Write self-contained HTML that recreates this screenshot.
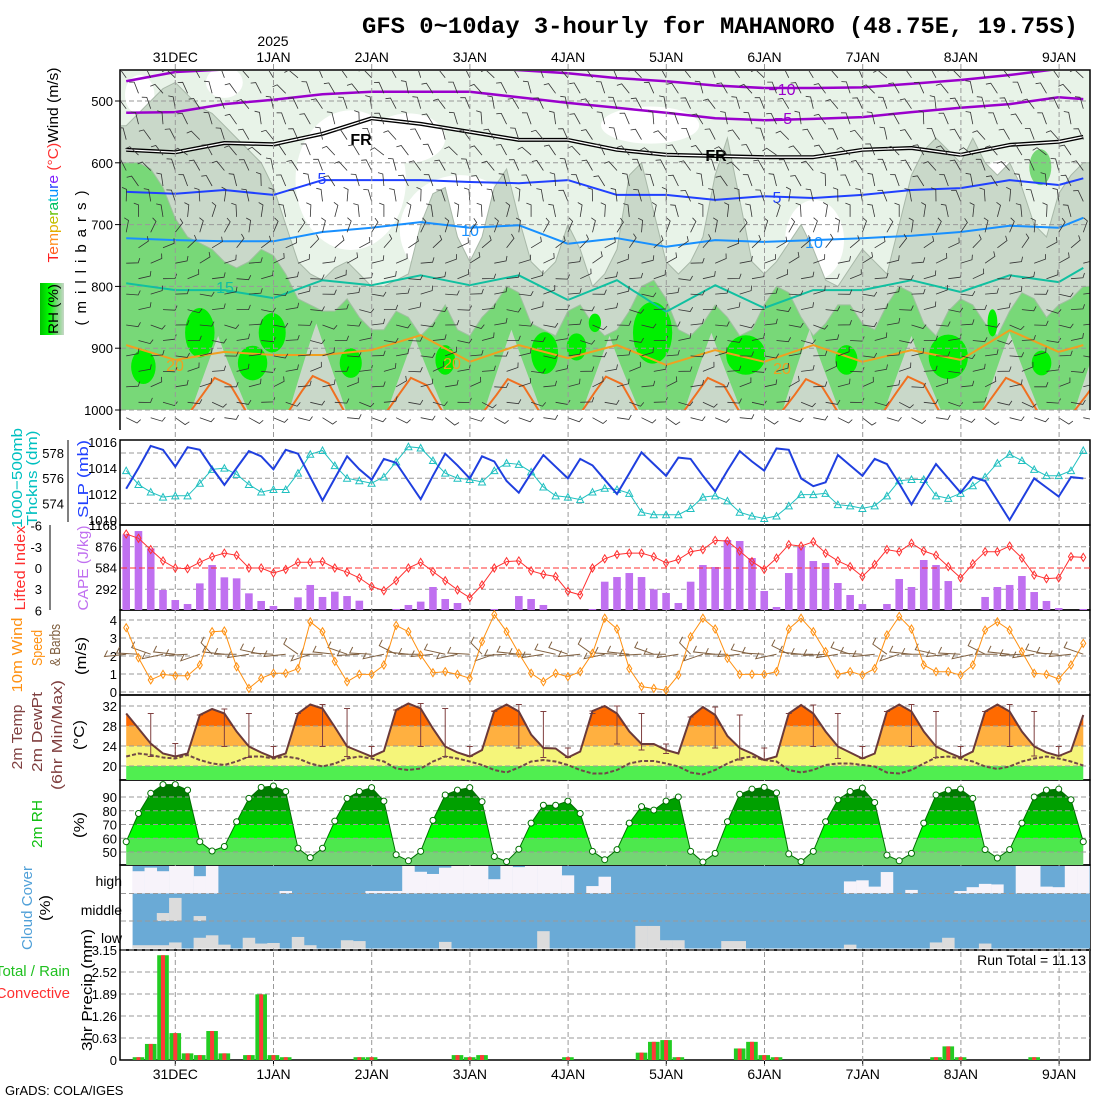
<!DOCTYPE html>
<html><head><meta charset="utf-8"><title>GFS meteogram MAHANORO</title>
<style>
html,body{margin:0;padding:0;background:#fff;}
svg{display:block;font-family:"Liberation Sans",sans-serif;}
.ax{font-size:13px;fill:#000;}
</style></head>
<body>
<svg id="chart" width="1100" height="1100" viewBox="0 0 1100 1100" xmlns="http://www.w3.org/2000/svg">
<defs>
<linearGradient id="rhgrad" x1="0" y1="0" x2="1" y2="0">
<stop offset="0" stop-color="#00c000"/><stop offset="0.4" stop-color="#00ff00"/><stop offset="0.7" stop-color="#78d878"/><stop offset="1" stop-color="#c8d8c8"/>
</linearGradient>
<clipPath id="clipMain"><rect x="121" y="71" width="969" height="339"/></clipPath>
<clipPath id="clipMainB"><rect x="121" y="71" width="969" height="358"/></clipPath>
<clipPath id="cT1"><rect x="120" y="690" width="970" height="36"/></clipPath>
<clipPath id="cT2"><rect x="120" y="726" width="970" height="20"/></clipPath>
<clipPath id="cT3"><rect x="120" y="746" width="970" height="20"/></clipPath>
<clipPath id="cT4"><rect x="120" y="766" width="970" height="14"/></clipPath>
<clipPath id="cR1"><rect x="120" y="780" width="970" height="17"/></clipPath>
<clipPath id="cR2"><rect x="120" y="797" width="970" height="14"/></clipPath>
<clipPath id="cR3"><rect x="120" y="811" width="970" height="14"/></clipPath>
<clipPath id="cR4"><rect x="120" y="825" width="970" height="13"/></clipPath>
<clipPath id="cR5"><rect x="120" y="838" width="970" height="14"/></clipPath>
<clipPath id="cR6"><rect x="120" y="852" width="970" height="13"/></clipPath>
</defs>

<text x="362" y="33" font-family="Liberation Mono, monospace" font-weight="bold" font-size="23" textLength="716" lengthAdjust="spacingAndGlyphs">GFS 0~10day 3-hourly for MAHANORO (48.75E, 19.75S)</text>
<text x="273" y="46" text-anchor="middle" font-size="14">2025</text>

<text transform="translate(58,165) rotate(-90)" text-anchor="middle" font-size="15" textLength="195" lengthAdjust="spacingAndGlyphs"><tspan fill="#ff2020">T</tspan><tspan fill="#ff6020">e</tspan><tspan fill="#ff9020">m</tspan><tspan fill="#e0b000">p</tspan><tspan fill="#c0c000">e</tspan><tspan fill="#60c000">r</tspan><tspan fill="#00c060">a</tspan><tspan fill="#00c0c0">t</tspan><tspan fill="#0090ff">u</tspan><tspan fill="#2040ff">r</tspan><tspan fill="#8020ff">e</tspan><tspan fill="#ff3030"> (°C)</tspan><tspan fill="#000">Wind (m/s)</tspan></text>
<text transform="translate(86,258) rotate(-90)" text-anchor="middle" font-size="15" textLength="135" lengthAdjust="spacing">(millibars)</text>
<rect x="40" y="283" width="24" height="52" fill="url(#rhgrad)"/>
<text transform="translate(58,309) rotate(-90)" text-anchor="middle" font-size="14" textLength="50" lengthAdjust="spacingAndGlyphs">RH (%)</text>

<text transform="translate(22,478) rotate(-90)" text-anchor="middle" font-size="15" fill="#00c0c0" textLength="100" lengthAdjust="spacingAndGlyphs">1000−500mb</text>
<text transform="translate(37,478) rotate(-90)" text-anchor="middle" font-size="15" fill="#00c0c0" textLength="95" lengthAdjust="spacingAndGlyphs">Thckns (dm)</text>
<text transform="translate(88,479) rotate(-90)" text-anchor="middle" font-size="15" fill="#2040ff" textLength="78" lengthAdjust="spacingAndGlyphs">SLP (mb)</text>
<text transform="translate(25,568) rotate(-90)" text-anchor="middle" font-size="15" fill="#ff3030" textLength="85" lengthAdjust="spacingAndGlyphs">Lifted Index</text>
<text transform="translate(88,568) rotate(-90)" text-anchor="middle" font-size="15" fill="#c070f0" textLength="85" lengthAdjust="spacingAndGlyphs">CAPE (J/kg)</text>
<text transform="translate(22,655) rotate(-90)" text-anchor="middle" font-size="15" fill="#ff9010" textLength="75" lengthAdjust="spacingAndGlyphs">10m Wind</text>
<text transform="translate(42,648) rotate(-90)" text-anchor="middle" font-size="15" fill="#ff9010" textLength="36" lengthAdjust="spacingAndGlyphs">Speed</text>
<text transform="translate(60,645) rotate(-90)" text-anchor="middle" font-size="15" fill="#806040" textLength="42" lengthAdjust="spacingAndGlyphs">&amp; Barbs</text>
<text transform="translate(86,656) rotate(-90)" text-anchor="middle" font-size="15" textLength="38" lengthAdjust="spacingAndGlyphs">(m/s)</text>
<text transform="translate(22,737) rotate(-90)" text-anchor="middle" font-size="15" fill="#804040" textLength="65" lengthAdjust="spacingAndGlyphs">2m Temp</text>
<text transform="translate(42,732) rotate(-90)" text-anchor="middle" font-size="15" fill="#804040" textLength="80" lengthAdjust="spacingAndGlyphs">2m DewPt</text>
<text transform="translate(62,735) rotate(-90)" text-anchor="middle" font-size="15" fill="#804040" textLength="110" lengthAdjust="spacingAndGlyphs">(6hr Min/Max)</text>
<text transform="translate(84,735) rotate(-90)" text-anchor="middle" font-size="15" textLength="30" lengthAdjust="spacingAndGlyphs">(°C)</text>
<text transform="translate(42,824) rotate(-90)" text-anchor="middle" font-size="15" fill="#10c010" textLength="48" lengthAdjust="spacingAndGlyphs">2m RH</text>
<text transform="translate(84,825) rotate(-90)" text-anchor="middle" font-size="15" textLength="26" lengthAdjust="spacingAndGlyphs">(%)</text>
<text transform="translate(32,908) rotate(-90)" text-anchor="middle" font-size="15" fill="#50a0d8" textLength="84" lengthAdjust="spacingAndGlyphs">Cloud Cover</text>
<text transform="translate(50,908) rotate(-90)" text-anchor="middle" font-size="15" textLength="26" lengthAdjust="spacingAndGlyphs">(%)</text>
<text x="122" y="886" text-anchor="end" font-size="14">high</text>
<text x="122" y="915" text-anchor="end" font-size="14">middle</text>
<text x="122" y="943" text-anchor="end" font-size="14">low</text>
<text x="70" y="976" text-anchor="end" font-size="15" fill="#20c020">Total / Rain</text>
<text x="70" y="998" text-anchor="end" font-size="15" fill="#ff3030">Convective</text>
<text transform="translate(92,990) rotate(-90)" text-anchor="middle" font-size="15" textLength="122" lengthAdjust="spacingAndGlyphs">3hr Precip (mm)</text>
<text x="5" y="1095" font-size="13">GrADS: COLA/IGES</text>

<g id="layer"></g>
</svg>

<script>
// ===== data =====
const days = ['31DEC','1JAN','2JAN','3JAN','4JAN','5JAN','6JAN','7JAN','8JAN','9JAN'];
const slp = [1012.4,1014.0,1015.7,1015.4,1014.1,1015.6,1015.4,1014.0,1012.7,1014.0,1015.3,1014.9,1013.9,1015.4,1015.1,1013.3,1011.5,1013.2,1014.9,1013.9,1013.1,1014.7,1014.4,1013.0,1011.6,1013.4,1015.1,1014.2,1013.2,1014.9,1014.5,1013.0,1012.1,1013.6,1015.0,1014.1,1013.2,1014.7,1014.2,1013.1,1012.0,1013.6,1015.2,1014.3,1013.4,1014.8,1014.7,1013.4,1012.2,1013.8,1015.3,1014.5,1013.8,1015.5,1015.4,1013.2,1012.6,1012.9,1015.0,1014.2,1013.4,1014.7,1014.3,1012.8,1011.2,1012.8,1014.3,1013.2,1012.1,1013.3,1013.0,1011.5,1010.0,1011.6,1013.2,1012.5,1011.8,1013.3,1013.2];
const thk = [576.6,575.5,574.9,574.5,574.6,574.6,575.6,576.7,576.8,576.3,575.5,574.9,575.1,575.1,576.4,577.9,578.2,577.0,576.0,575.8,575.6,576.1,577.3,578.5,578.4,577.4,576.4,576.0,575.9,575.7,576.6,577.2,577.1,576.5,575.3,574.6,574.5,574.3,574.9,575.2,575.1,574.8,573.3,573.1,573.1,573.1,573.6,574.5,574.6,574.2,573.3,573.0,572.8,573.0,573.8,574.7,574.7,574.8,573.9,573.8,573.6,573.8,574.6,575.8,575.9,575.9,574.6,574.4,574.8,575.4,576.1,577.2,577.9,577.4,576.7,576.2,576.2,576.6,578.2];
const liftedIndex = [-4.8,-4.2,-2.6,-1.0,0,0.1,-0.8,-1.6,-2.1,-1.8,0,0,0.7,0.2,-0.8,-0.8,-0.9,0,0.6,1.4,2.6,3.2,1.8,0,-0.8,0.5,1.8,3.1,4.2,2.4,0,-0.9,-1.0,0.4,0.9,1.2,3.3,3.8,0,-1.3,-1.9,-2.1,-2.1,-1.6,-0.7,-1.2,-2.3,-2.6,-3.9,-3.8,-2.4,-0.9,0.2,-1.4,-3.3,-3.1,-3.7,-2.1,-1.0,-0.2,1.2,-0.5,-2.6,-2.3,-3.5,-2.4,-1.8,-0.2,1.4,-0.6,-2.3,-2.3,-3.1,-1.4,1.0,1.5,1.4,-1.6,-1.5];
const cape = [1040,1085,847,275,137,82,366,618,449,435,229,124,55,0,174,344,179,252,192,128,0,0,14,69,115,316,151,96,0,0,14,0,192,151,69,0,0,0,14,389,453,508,453,284,234,96,389,618,591,962,948,714,261,41,508,866,673,646,371,206,82,0,82,426,316,687,618,398,0,0,179,316,344,467,247,124,27,0,14];
const windSpeed = [3.57,1.9,0.67,0.98,0.9,0.9,1.5,3.35,3.39,1.4,0.2,0.76,1.04,1.04,1.3,3.9,3.35,1.7,0.57,0.98,0.98,1.5,3.7,3.35,2.05,1.07,1.13,0.98,0.76,2.8,4.3,3.35,2.15,1.04,0.57,1.04,0.85,1.13,2.15,4.1,3.5,1.3,0.3,0.2,0.1,0.94,3.07,4.1,3.5,1.87,0.98,0.98,0.98,1.13,3.5,4.1,3.35,2.24,0.98,1.13,0.94,1.3,3.17,4.2,3.5,1.5,1.13,1.13,0.94,1.5,3.44,3.9,3.44,2.24,1.04,0.98,0.72,1.5,2.7];
const windDir10 = [80,95,120,70,100,85,60,150,100,90,75,110,95,80,140,60,90,100,120,85,95,70,130,100,90,80,110,70,95,150,60,85,100,90,75,110,120,80,140,70,95,100,85,120,90,75,150,60,100,90,80,110,95,70,130,100,90,85,75,120,95,80,140,60,100,90,110,80,95,70,130,90,100,85,75,110,95,80,120];
const temp2m = [30.5,27.5,24.5,22.5,21.9,22.5,30.2,31.4,30.5,26.9,23.9,22.7,21.7,22.5,30.5,32.3,31.5,27.8,23.9,22.9,21.9,23.0,31.2,32.5,31.5,27.5,23.9,22.7,21.9,23.2,31.0,32.3,30.9,26.3,23.6,23.5,21.7,22.9,31.0,32.0,30.5,26.9,24.4,24.4,23.2,22.5,29.8,31.8,30.2,26.0,23.6,22.5,21.2,21.9,30.5,32.2,30.5,26.9,23.9,22.7,21.5,22.5,30.9,32.3,30.9,26.9,23.9,22.7,21.7,22.9,30.9,32.3,30.9,26.9,23.9,22.7,22.0,23.0,30.2];
const dew2m = [21.9,22.5,22.2,21.7,21.5,22.2,21.2,20.5,20.2,20.9,21.9,21.9,21.5,21.9,21.5,20.5,19.9,20.5,21.5,21.9,21.5,20.9,19.5,19.2,19.5,20.9,21.9,21.5,20.9,20.2,19.2,18.7,19.7,20.9,21.2,20.9,20.2,19.2,18.5,18.5,19.2,20.5,21.0,21.0,20.5,19.9,18.7,18.3,19.2,20.5,21.5,21.9,21.2,20.9,19.2,18.7,19.2,20.2,20.5,20.5,20.2,19.9,18.7,18.5,19.2,20.5,21.7,21.9,21.5,20.9,19.9,19.4,19.9,20.9,21.5,21.9,21.5,20.9,20.1];
const rh2m = [57.5,78,92.7,99,99,95,57.5,50.7,54,72,89,97,98,94,52.7,45.9,52.7,72.5,89,94,96.8,87,48,43.6,50.5,73,91.5,95,96.8,86.6,46.7,43,52,71,84,84,87,78,50.5,44.4,51.7,71,83,80.5,87,90,50.5,42.7,49,72,92,95.7,97,93,48.6,43,50.5,72,88,94,96.5,86,47.7,43.6,49,71,91.5,95,95.7,89,51.7,45.6,51.7,71,90,95,95.7,88,57.5];
const cloudHigh = [null,19,6,19,0,0,37,0,100,100,100,100,100,91,100,100,100,100,100,100,91,91,91,0,21,29,6,0,0,0,48,0,4,0,0,0,34,100,73,39,100,100,100,100,100,100,100,100,100,100,100,100,100,100,100,100,100,100,100,56,52,75,22,100,87,100,100,100,91,77,65,67,100,0,0,75,77,0,0];
const cloudMid = [null,100,100,71,16,100,82,100,100,100,100,100,100,100,100,100,100,100,100,100,100,100,100,100,100,100,100,100,100,100,100,100,100,100,100,100,100,100,100,100,100,100,100,100,100,100,100,100,100,100,100,100,100,100,100,100,100,100,100,100,100,100,100,100,100,100,100,100,100,100,100,100,100,100,100,100,100,100,100];
const cloudLow = [null,88,88,88,78,100,61,52,86,100,61,82,80,100,58,88,100,100,70,73,100,100,100,100,100,100,76,100,100,100,100,100,100,100,37,100,100,100,100,100,100,100,18,18,70,70,100,100,100,73,73,100,100,100,100,100,100,100,100,86,100,100,100,100,100,100,78,61,100,100,82,100,100,100,100,100,100,100,100];
const precipTotal = [0,0.08,0.46,3.0,0.77,0.19,0.14,0.83,0.19,0,0.14,1.88,0.14,0.08,0,0,0,0,0,0.08,0.08,0,0,0,0,0,0,0.14,0.08,0.14,0,0,0,0,0,0,0.08,0,0,0,0,0,0.21,0.52,0.57,0.08,0,0,0,0,0.33,0.52,0.14,0.08,0,0,0,0,0,0,0,0,0,0,0,0,0.08,0.39,0.08,0,0,0,0,0,0.08,0,0,0,0];
const precipConv = [0,0.08,0.46,3.0,0.77,0.19,0.14,0.83,0.19,0,0.14,1.88,0.14,0.08,0,0,0,0,0,0.08,0.08,0,0,0,0,0,0,0.14,0.08,0.14,0,0,0,0,0,0,0.08,0,0,0,0,0,0.21,0.52,0.57,0.08,0,0,0,0,0.33,0.52,0.14,0.08,0,0,0,0,0,0,0,0,0,0,0,0,0.08,0.39,0.08,0,0,0,0,0,0.08,0,0,0,0];
const runTotal = '11.13';
const isoIdx = [0,4,8,12,16,20,24,28,32,36,40,44,48,52,56,60,64,68,72,76,78];
const isoM10 = [468,453,449,445,440,440,440,445,450,455,463,468,475,479,479,478,472,466,458,448,445];
const isoM5 = [519,518,505,498,489,485,485,485,494,503,511,519,528,531,529,526,518,511,505,494,497];
const isoFR = [579,583,568,570,553,528,537,550,563,563,579,587,589,591,591,579,576,587,571,566,558];
const iso5 = [647,650,644,652,628,628,628,631,633,628,652,652,660,654,657,652,644,641,628,636,625];
const iso10 = [722,725,727,727,712,705,696,705,701,731,722,736,725,728,725,722,718,712,702,705,689];
const iso15 = [795,806,806,819,790,798,782,798,782,822,790,841,798,835,806,806,790,809,782,793,770];
const iso20 = [895,919,906,911,911,903,879,922,895,916,895,927,903,922,895,922,903,919,871,906,895];
const warmCentres = [7.5,15.5,23.5,31.4,39.4,47.7,55.7,64,72,79.5];
const warm25Top = [948,945,948,950,946,948,950,946,948,950];
const drySpikeTop = [880,860,880,870,880,875,870,880,875,870];
const greenTop = [600,600,610,640,690,720,730,740,760,770,760,740,750,780,820,830,840,840,820,850,870,870,840,850,880,860,830,870,880,850,830,800,810,860,870,880,840,830,860,880,870,840,800,790,820,870,880,860,830,850,880,870,830,800,810,850,880,860,830,830,860,870,830,800,810,860,880,840,820,830,860,880,840,810,820,850,830,820,800];
const grayTop = [540,520,500,480,470,490,510,520,540,560,580,600,640,700,760,780,790,770,760,780,800,800,790,780,700,650,640,720,760,720,640,610,690,760,780,760,700,740,800,780,740,620,600,680,760,780,760,720,620,560,660,760,780,760,730,700,740,790,800,770,740,760,780,700,620,580,560,580,600,560,600,620,600,640,700,720,650,620,600];
const whiteI = [1.1,18.3,27.2,23,42.7,56.1,71.2,8];
const whiteP = [490,628,709,560,539,725,676,470];
const whiteDI = [1.2,4.5,4.9,3,4,2.4,2,1.5];
const whiteDP = [32,113,89,40,30,65,80,25];
const moistI = [1.4,6.0,11.9,10.3,18.3,26.0,34.1,36.7,42.9,50.5,58.7,67.0,74.6,70.6,38.2];
const moistP = [930,875,875,924,924,919,908,898,875,911,919,914,924,859,859];
const moistDI = [1.0,1.2,1.1,1.2,0.9,0.8,1.1,0.8,1.6,1.6,0.9,1.6,0.8,0.4,0.5];
const moistDP = [28,40,32,28,24,24,34,22,50,32,24,36,20,22,15];
const barbLevels = [462.5,487.5,512.5,537.5,562.5,587.5,612.5,637.5,662.5,687.5,712.5,737.5,762.5,787.5,812.5,837.5,862.5,887.5,912.5,937.5,962.5,987.5,1012.5];
const barbDirLevel = [235,240,245,250,240,230,240,250,260,270,290,320,340,350,355,0,5,0,355,350,345,10,20];
const barbJitter = [0,15,-20,10,25,-10,5,-25,20,0,-15,10,30,-5,15,-20,5,25,-10,0,20,-15,10,-5,25,0,-20,15,5,-10,20,-25,0,10,-15,30,-5,15,0,-20];

// ===== scales =====
const X = i => 126.2 + 12.27 * i;
const P = p => 101 + (p - 500) * 0.618;
const Yslp = v => 442 + (1016 - v) * 13;
const Ythk = v => 453 + (578 - v) * 12.6;
const Yli = v => 568 + v * 7.08;
const Ycape = v => 610 - v * 85 / 1168;
const Ywind = v => 692 - v * 18;
const Ytemp = v => 706 + (32 - v) * 5;
const Yrh = v => 797 + (90 - v) * 1.375;
const Yprc = v => 1060 - v * 34.92;
const dayX = k => 175.3 + 98.2 * k;

const NS = 'http://www.w3.org/2000/svg';
const root = document.getElementById('layer');
function mk(tag, attrs, parent) {
  const e = document.createElementNS(NS, tag);
  for (const k in attrs) e.setAttribute(k, attrs[k]);
  (parent || root).appendChild(e);
  return e;
}
function grp(name, parent, extra) {
  const g = mk('g', extra || {}, parent);
  
  
  return g;
}
function pts(arr, fy) { return arr.map((v, i) => X(i).toFixed(1) + ',' + fy(v).toFixed(1)).join(' '); }

// ===== main cross-section =====
const gMain = grp('cross-section-panel');
const gField = grp('rh-shading', gMain, {'clip-path': 'url(#clipMain)'});
let bg = mk('rect', {x: 121, y: 71, width: 969, height: 339, fill: '#e8f3e8'}, gField);


for (let k = 0; k < whiteI.length; k++) {
  const e = mk('ellipse', {cx: X(whiteI[k]), cy: P(whiteP[k]), rx: whiteDI[k] * 12.27, ry: whiteDP[k] * 0.618, fill: '#ffffff'}, gField);
  
  
}
{
  let d = 'M' + X(0) + ',' + P(grayTop[0]);
  for (let i = 1; i < grayTop.length; i++) d += ' L' + X(i).toFixed(1) + ',' + P(grayTop[i]).toFixed(1);
  d += ' L1095,' + P(grayTop[grayTop.length - 1]) + ' L1095,410 L121,410 L121,' + P(grayTop[0]) + ' Z';
  const e = mk('path', {d: d, fill: '#c9d8c9', stroke: '#a8b8a8', 'stroke-width': 1}, gField);
  
  
}
{
  let d = 'M' + X(0) + ',' + P(greenTop[0]);
  for (let i = 1; i < greenTop.length; i++) d += ' L' + X(i).toFixed(1) + ',' + P(greenTop[i]).toFixed(1);
  d += ' L1095,' + P(greenTop[greenTop.length - 1]) + ' L1095,410 L121,410 L121,' + P(greenTop[0]) + ' Z';
  const e = mk('path', {d: d, fill: '#78d878', stroke: '#a0c0a0', 'stroke-width': 1}, gField);
  
  
}
for (let k = 0; k < warmCentres.length; k++) {
  const c = warmCentres[k];
  const d = 'M' + X(c - 2.2) + ',410 Q' + X(c - 0.4) + ',' + P(drySpikeTop[k] + 20) + ' ' + X(c) + ',' + P(drySpikeTop[k]) + ' Q' + X(c + 0.5) + ',' + P(drySpikeTop[k] + 30) + ' ' + X(c + 2.4) + ',410 Z';
  const e = mk('path', {d: d, fill: '#c9d8c9'}, gField);
  
  
}
for (let k = 0; k < moistI.length; k++) {
  const e = mk('ellipse', {cx: X(moistI[k]), cy: P(moistP[k]), rx: moistDI[k] * 12.27, ry: moistDP[k] * 0.618, fill: '#00f000'}, gField);
  
  
}
{
  const e = mk('ellipse', {cx: X(74.5), cy: P(607), rx: 11, ry: 18, fill: '#78d878'}, gField);
  
  
}
const gGridMain = grp('cross-section-grid', gMain);
for (let p = 500; p <= 1000; p += 100) {
  const l = mk('line', {x1: 121, x2: 1090, y1: P(p), y2: P(p), stroke: '#999', 'stroke-dasharray': '5,3', 'stroke-width': 1}, gGridMain);
  
  
  const t = mk('text', {x: 113, y: P(p) + 5, 'text-anchor': 'end', class: 'ax', 'font-size': 14}, gMain);
  t.textContent = p;
  
  
  const tk = mk('line', {x1: 115, x2: 121, y1: P(p), y2: P(p), stroke: '#000'}, gMain);
  
  
}
const gIso = grp('isotherms', gMain, {'clip-path': 'url(#clipMain)'});
function isoLine(arr, color, w, name) {
  const s = isoIdx.map((ix, k) => X(ix).toFixed(1) + ',' + P(arr[k]).toFixed(1)).join(' ');
  const e = mk('polyline', {points: s, fill: 'none', stroke: color, 'stroke-width': w, 'stroke-linejoin': 'round'}, gIso);
  
  
  return s;
}
isoLine(isoM10, '#9a00cc', 2.5, 'isotherm-minus10');
isoLine(isoM5, '#9a00cc', 2.5, 'isotherm-minus5');
const frPts = isoLine(isoFR, '#000', 4, 'freezing-level-outer');
{
  const e = mk('polyline', {points: frPts, fill: 'none', stroke: '#fff', 'stroke-width': 1.3}, gIso);
  
  
}
isoLine(iso5, '#2040ff', 2, 'isotherm-5');
isoLine(iso10, '#1890ff', 2, 'isotherm-10');
isoLine(iso15, '#10c0a0', 2, 'isotherm-15');
isoLine(iso20, '#f0a020', 2, 'isotherm-20');
for (let k = 0; k < warmCentres.length; k++) {
  const c = warmCentres[k];
  const d = 'M' + X(c - 2.3) + ',412 L' + X(c - 1.2) + ',' + P(warm25Top[k] + 25) + ' L' + X(c - 0.3) + ',' + P(warm25Top[k]) + ' L' + X(c + 1) + ',' + P(warm25Top[k] + 12) + ' L' + X(c + 2.3) + ',412';
  const e = mk('path', {d: d, fill: 'none', stroke: '#f07020', 'stroke-width': 2}, gIso);
  
  
}
const isoLabels = [['−10', 782, 95, '#9a00cc'], ['−5', 783, 124, '#9a00cc'], ['FR', 361, 145, '#000'], ['FR', 716, 161, '#000'], ['5', 322, 184, '#2040ff'], ['5', 777, 203, '#2040ff'], ['10', 470, 236, '#1890ff'], ['10', 814, 248, '#1890ff'], ['15', 225, 293, '#10c0a0'], ['20', 175, 371, '#f0a020'], ['20', 452, 369, '#f0a020'], ['20', 782, 374, '#f0a020']];
for (const L of isoLabels) {
  const t = mk('text', {x: L[1], y: L[2], 'text-anchor': 'middle', 'font-size': 16, fill: L[3], 'font-weight': L[0] === 'FR' ? 'bold' : 'normal'}, gMain);
  t.textContent = L[0];
  
  
}
const gBarb = grp('wind-barbs-aloft', gMain, {'clip-path': 'url(#clipMainB)', stroke: '#333', 'stroke-width': 0.8});
for (let r = 0; r < barbLevels.length; r++) {
  for (let c = 0; c < 40; c++) {
    const i = c * 2 + (r % 2);
    if (i > 78) continue;
    const a = (barbDirLevel[r] + barbJitter[(c + r) % 40] * 0.6) * Math.PI / 180;
    const x0 = X(i), y0 = P(barbLevels[r]);
    const x1 = x0 + 12 * Math.cos(a), y1 = y0 + 12 * Math.sin(a);
    const b = a - 1.2;
    const e = mk('path', {d: 'M' + x0.toFixed(1) + ',' + y0.toFixed(1) + ' L' + x1.toFixed(1) + ',' + y1.toFixed(1) + ' l' + (5 * Math.cos(b)).toFixed(1) + ',' + (5 * Math.sin(b)).toFixed(1), fill: 'none'}, gBarb);
    
    
  }
}
const gFrame = grp('panel-frames');
{
  const f = mk('path', {d: 'M120,430 L120,70 L1090,70 L1090,410', fill: 'none', stroke: '#000', 'stroke-width': 1.5}, gFrame);
  
  
}

const gDates = grp('date-axis');
for (let k = 0; k < days.length; k++) {
  const t = mk('text', {x: dayX(k), y: 62, 'text-anchor': 'middle', 'font-size': 14}, gDates);
  t.textContent = days[k];
  
  
  const b = mk('text', {x: dayX(k), y: 1079, 'text-anchor': 'middle', 'font-size': 14}, gDates);
  b.textContent = days[k];
  
  
  const l = mk('line', {x1: dayX(k), x2: dayX(k), y1: 64, y2: 1066, stroke: '#999', 'stroke-dasharray': '5,3'}, gDates);
  
  
}

function hgrid(y, parent, color, dash) {
  const l = mk('line', {x1: 121, x2: 1090, y1: y, y2: y, stroke: color || '#999', 'stroke-dasharray': dash || '5,3'}, parent);
  
  
}
function label(txt, x, y, parent, anchor, color) {
  const t = mk('text', {x: x, y: y, 'text-anchor': anchor || 'end', class: 'ax', fill: color || '#000'}, parent);
  t.textContent = txt;
  
  
}
function frame(y1, y2, name) {
  const f = mk('rect', {x: 120, y: y1, width: 970, height: y2 - y1, fill: 'none', stroke: '#000', 'stroke-width': 1.5}, gFrame);
  
  
}

// SLP / thickness
const gP2 = grp('slp-thickness-panel');
[578, 576, 574].forEach(v => { hgrid(Ythk(v), gP2); label(String(v), 64, Ythk(v) + 5, gP2); });
[1016, 1014, 1012, 1010].forEach(v => label(String(v), 117, Yslp(v) + 5, gP2));
{
  const a = mk('line', {x1: 68, x2: 68, y1: 440, y2: 522, stroke: '#000'}, gP2);
  
  
}
{
  const e = mk('polyline', {points: pts(thk, Ythk), fill: 'none', stroke: '#20c0c0', 'stroke-width': 1}, gP2);
  
  
  thk.forEach((v, i) => {
    const x = X(i), y = Ythk(v);
    const m = mk('path', {d: 'M' + (x - 3.5) + ',' + (y + 3) + ' L' + x + ',' + (y - 3.5) + ' L' + (x + 3.5) + ',' + (y + 3) + ' Z', fill: 'none', stroke: '#20c0c0'}, gP2);
    
    
  });
  const s = mk('polyline', {points: pts(slp, Yslp), fill: 'none', stroke: '#1f3fdf', 'stroke-width': 2}, gP2);
  
  
}
frame(440, 525, 'slp-panel-frame');

// CAPE / LI
const gP3 = grp('cape-li-panel');
[-3, 3].forEach(v => hgrid(Yli(v), gP3));
[-6, -3, 0, 3, 6].forEach(v => label(String(v), 42, Yli(v) + 5, gP3));
[1168, 876, 584, 292].forEach(v => label(String(v), 117, Ycape(v) + 5, gP3));
{
  const a = mk('line', {x1: 50, x2: 50, y1: 525, y2: 610, stroke: '#000'}, gP3);
  
  
}
cape.forEach((v, i) => {
  if (v <= 0) return;
  const r = mk('rect', {x: X(i) - 3.8, y: Ycape(v), width: 7.6, height: 610 - Ycape(v), fill: '#c070f0'}, gP3);
  
  
});
hgrid(Yli(0), gP3, '#ff3030', '6,3');
{
  const e = mk('polyline', {points: pts(liftedIndex, Yli), fill: 'none', stroke: '#ff3030', 'stroke-width': 1}, gP3);
  
  
  liftedIndex.forEach((v, i) => {
    const x = X(i), y = Yli(v);
    const m = mk('path', {d: 'M' + x + ',' + (y - 4) + ' L' + (x + 2.5) + ',' + y + ' L' + x + ',' + (y + 4) + ' L' + (x - 2.5) + ',' + y + ' Z', fill: 'none', stroke: '#ff3030'}, gP3);
    
    
  });
}
frame(525, 610, 'cape-panel-frame');

// 10m wind
const gP4 = grp('wind10m-panel');
[0, 1, 2, 3, 4].forEach(v => { hgrid(Ywind(v), gP4); label(String(v), 117, Ywind(v) + 5, gP4); });
windDir10.forEach((d, i) => {
  const a = d * Math.PI / 180;
  const x0 = X(i), y0 = Ywind(2.1);
  const x1 = x0 - 22 * Math.cos(a - Math.PI / 2), y1 = y0 - 22 * Math.sin(a - Math.PI / 2) * 0.6;
  const e = mk('path', {d: 'M' + x0.toFixed(1) + ',' + y0.toFixed(1) + ' L' + x1.toFixed(1) + ',' + y1.toFixed(1) + ' l3,-6', fill: 'none', stroke: '#806040', 'stroke-width': 1}, gP4);
  
  
});
{
  const e = mk('polyline', {points: pts(windSpeed, Ywind), fill: 'none', stroke: '#ff9010', 'stroke-width': 1}, gP4);
  
  
  windSpeed.forEach((v, i) => {
    const x = X(i), y = Ywind(v);
    const m = mk('path', {d: 'M' + x + ',' + (y - 4) + ' L' + (x + 2.5) + ',' + y + ' L' + x + ',' + (y + 4) + ' L' + (x - 2.5) + ',' + y + ' Z', fill: 'none', stroke: '#ff9010'}, gP4);
    
    
  });
}
frame(610, 695, 'wind-panel-frame');

// 2m temperature
const gP5 = grp('temp-panel');
{
  const poly = pts(temp2m, Ytemp) + ' ' + X(78) + ',780 ' + X(0) + ',780';
  const bands = [['cT1', '#ff6a00'], ['cT2', '#ffb040'], ['cT3', '#f5f57a'], ['cT4', '#50ee50']];
  bands.forEach(b => {
    const e = mk('polygon', {points: poly, fill: b[1], 'clip-path': 'url(#' + b[0] + ')'}, gP5);
    
    
  });
}
[32, 28, 24, 20].forEach(v => { hgrid(Ytemp(v), gP5); label(String(v), 117, Ytemp(v) + 5, gP5); });
temp2m.forEach((v, i) => {
  if (i % 2 !== 0 || i < 2 || i > 76) return;
  const hi = Math.max(temp2m[i - 2], temp2m[i - 1], temp2m[i]);
  const lo = Math.min(temp2m[i], temp2m[i + 1], temp2m[i + 2]);
  const e = mk('path', {d: 'M' + X(i) + ',' + Ytemp(hi) + ' L' + X(i) + ',' + Ytemp(lo) + ' M' + (X(i) - 3) + ',' + Ytemp(hi) + ' h6 M' + (X(i) - 3) + ',' + Ytemp(lo) + ' h6', stroke: '#804040', fill: 'none'}, gP5);
  
  
});
{
  const d = mk('polyline', {points: pts(dew2m, Ytemp), fill: 'none', stroke: '#704848', 'stroke-width': 2, 'stroke-dasharray': '4,2'}, gP5);
  
  
  const t = mk('polyline', {points: pts(temp2m, Ytemp), fill: 'none', stroke: '#6a3a3a', 'stroke-width': 2}, gP5);
  
  
}
frame(695, 780, 'temp-panel-frame');

// 2m RH
const gP6 = grp('rh-panel');
{
  const poly = pts(rh2m, Yrh) + ' ' + X(78) + ',865 ' + X(0) + ',865';
  const bands = [['cR1', '#007a00'], ['cR2', '#00a000'], ['cR3', '#00c400'], ['cR4', '#00ff00'], ['cR5', '#4de84d'], ['cR6', '#73d673']];
  bands.forEach(b => {
    const e = mk('polygon', {points: poly, fill: b[1], 'clip-path': 'url(#' + b[0] + ')'}, gP6);
    
    
  });
}
[90, 80, 70, 60, 50].forEach(v => { hgrid(Yrh(v), gP6); label(String(v), 117, Yrh(v) + 5, gP6); });
{
  const l = mk('polyline', {points: pts(rh2m, Yrh), fill: 'none', stroke: '#007000', 'stroke-width': 1}, gP6);
  
  
  rh2m.forEach((v, i) => {
    const c = mk('circle', {cx: X(i), cy: Yrh(v), r: 3, fill: '#fff', stroke: '#007000'}, gP6);
    
    
  });
}
frame(780, 865, 'rh-panel-frame');

// cloud cover
const gP7 = grp('cloud-panel');
{
  const r = mk('rect', {x: 132.6, y: 866, width: 957.4, height: 82.5, fill: '#6aaad6'}, gP7);
  
  
}
const rows = [[cloudHigh, 866, '#f7f3fa'], [cloudMid, 893.5, '#dcdcdc'], [cloudLow, 921, '#dcdcdc']];
rows.forEach(row => {
  row[0].forEach((v, i) => {
    if (v === null || v >= 100) return;
    const h = (100 - v) / 100 * 27.5;
    const r = mk('rect', {x: X(i) - 6.2, y: row[1] + 27.5 - h, width: 12.5, height: h, fill: row[2]}, gP7);
    
    
  });
});
hgrid(893.5, gP7); hgrid(921, gP7);
frame(865, 950, 'cloud-panel-frame');

// precip
const gP8 = grp('precip-panel');
[0.63, 1.26, 1.89, 2.52, 3.15].forEach(v => hgrid(Yprc(v), gP8));
['0', '0.63', '1.26', '1.89', '2.52', '3.15'].forEach(s => label(s, 117, Yprc(parseFloat(s)) + 5, gP8));
precipTotal.forEach((v, i) => {
  if (v <= 0) return;
  const g = mk('rect', {x: X(i) - 5.8, y: Yprc(v), width: 11.6, height: 1060 - Yprc(v), fill: '#22cc22'}, gP8);
  
  
});
precipConv.forEach((v, i) => {
  if (v <= 0) return;
  const r = mk('rect', {x: X(i) - 2, y: Yprc(v), width: 4, height: 1060 - Yprc(v), fill: '#ff3a3a'}, gP8);
  
  
});
{
  const t = mk('text', {x: 1086, y: 965, 'text-anchor': 'end', 'font-size': 14}, gP8);
  t.textContent = 'Run Total = ' + runTotal;
  
  
}
frame(950, 1060, 'precip-panel-frame');
for (let k = 0; k < days.length; k++) {
  const tk = mk('line', {x1: dayX(k), x2: dayX(k), y1: 1060, y2: 1066, stroke: '#000'}, gFrame);
  
  
}
</script>
</body></html>
